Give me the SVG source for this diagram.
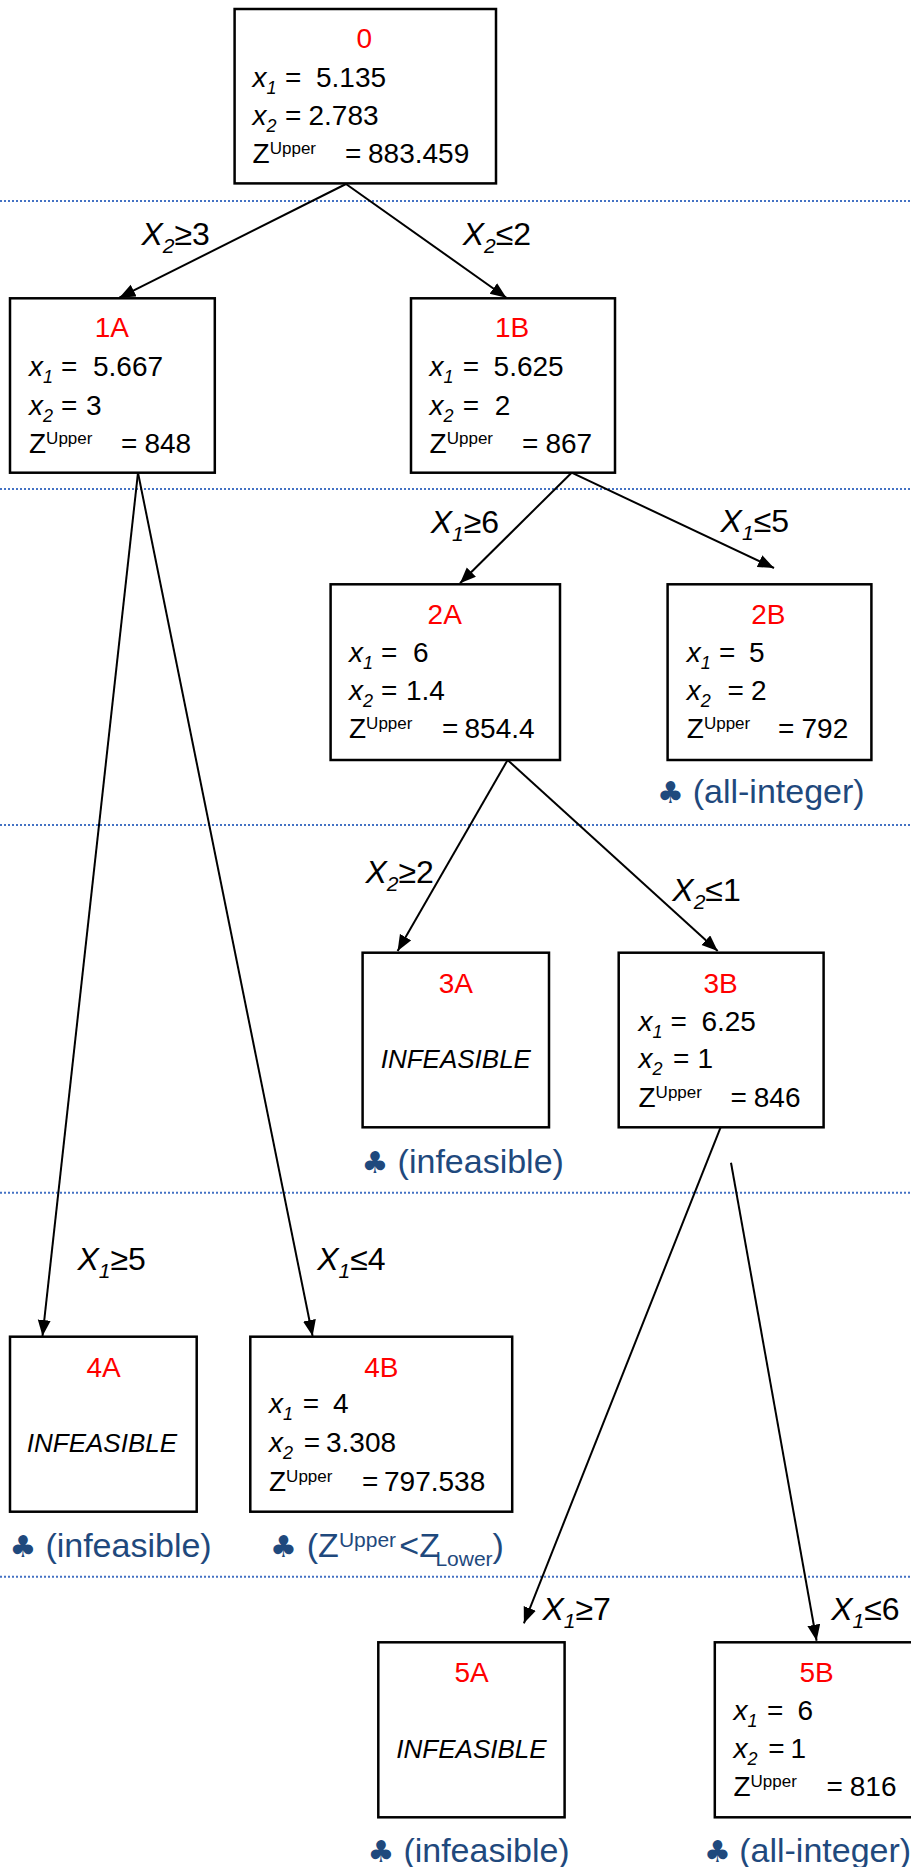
<svg xmlns="http://www.w3.org/2000/svg" width="911" height="1867" viewBox="0 0 911 1867">
<style>
text{font-family:"Liberation Sans",Arial,sans-serif;font-size:28px;fill:#000}
.box{fill:#fff;stroke:#000;stroke-width:2.5}
.lbl{fill:#f00;text-anchor:middle}
.i{font-style:italic}
.sb{font-size:18px;font-style:italic}
.sp{font-size:17px}
.inf{font-style:italic;text-anchor:middle;font-size:26px}
.el{font-size:32px}
.es{font-size:21px;font-style:italic}
.note{font-size:34px;fill:#1F497D}
.club{font-family:"DejaVu Sans",sans-serif;font-size:30px}
.dot{stroke:#4472C4;stroke-width:2;stroke-dasharray:2 2;fill:none}
.edge{stroke:#000;stroke-width:2;fill:none}
</style>
<defs>
<marker id="ah" markerUnits="userSpaceOnUse" markerWidth="18" markerHeight="14" refX="16" refY="6.5" orient="auto">
<path d="M0,0 L16,6.5 L0,13 Z" fill="#000"/>
</marker>
</defs>
<g id="separators">
<line class="dot" x1="0" y1="201" x2="911" y2="201"/>
<line class="dot" x1="0" y1="489" x2="911" y2="489"/>
<line class="dot" x1="0" y1="825" x2="911" y2="825"/>
<line class="dot" x1="0" y1="1192.7" x2="911" y2="1192.7"/>
<line class="dot" x1="0" y1="1576.7" x2="911" y2="1576.7"/>
</g>
<g id="connectors">
<line class="edge" x1="346" y1="184" x2="119.3" y2="297.7" marker-end="url(#ah)"/>
<line class="edge" x1="346" y1="184" x2="506.4" y2="297.7" marker-end="url(#ah)"/>
<line class="edge" x1="571.6" y1="472.7" x2="460" y2="583.3" marker-end="url(#ah)"/>
<line class="edge" x1="571.6" y1="472.7" x2="774" y2="568" marker-end="url(#ah)"/>
<line class="edge" x1="138" y1="472.7" x2="42.5" y2="1336" marker-end="url(#ah)"/>
<line class="edge" x1="138" y1="472.7" x2="312.6" y2="1336" marker-end="url(#ah)"/>
<line class="edge" x1="507.6" y1="760" x2="397.6" y2="951" marker-end="url(#ah)"/>
<line class="edge" x1="507.6" y1="760" x2="717.7" y2="951" marker-end="url(#ah)"/>
<line class="edge" x1="720.6" y1="1127.3" x2="523.9" y2="1623.3" marker-end="url(#ah)"/>
<line class="edge" x1="731" y1="1162.7" x2="816.6" y2="1640.7" marker-end="url(#ah)"/>
<text class="el" x="141.4" y="245"><tspan class="i">X</tspan><tspan class="es" dy="8">2</tspan><tspan dy="-8">≥3</tspan></text>
<text class="el" x="462.7" y="245"><tspan class="i">X</tspan><tspan class="es" dy="8">2</tspan><tspan dy="-8">≤2</tspan></text>
<text class="el" x="430.7" y="533"><tspan class="i">X</tspan><tspan class="es" dy="8">1</tspan><tspan dy="-8">≥6</tspan></text>
<text class="el" x="720.6" y="532"><tspan class="i">X</tspan><tspan class="es" dy="8">1</tspan><tspan dy="-8">≤5</tspan></text>
<text class="el" x="365.5" y="883"><tspan class="i">X</tspan><tspan class="es" dy="8">2</tspan><tspan dy="-8">≥2</tspan></text>
<text class="el" x="672.3" y="901"><tspan class="i">X</tspan><tspan class="es" dy="8">2</tspan><tspan dy="-8">≤1</tspan></text>
<text class="el" x="77.4" y="1270"><tspan class="i">X</tspan><tspan class="es" dy="8">1</tspan><tspan dy="-8">≥5</tspan></text>
<text class="el" x="317.2" y="1270"><tspan class="i">X</tspan><tspan class="es" dy="8">1</tspan><tspan dy="-8">≤4</tspan></text>
<text class="el" x="542.5" y="1620"><tspan class="i">X</tspan><tspan class="es" dy="8">1</tspan><tspan dy="-8">≥7</tspan></text>
<text class="el" x="831.2" y="1620"><tspan class="i">X</tspan><tspan class="es" dy="8">1</tspan><tspan dy="-8">≤6</tspan></text>
</g>
<g id="node0">
<rect class="box" x="234.6" y="9" width="261.4" height="174.4"/>
<text class="lbl" x="364.4" y="48">0</text>
<text x="252.6" y="87"><tspan class="i">x</tspan><tspan class="sb" dy="7">1</tspan><tspan x="285" dy="-7">=</tspan><tspan x="316">5.135</tspan></text>
<text x="252.6" y="125"><tspan class="i">x</tspan><tspan class="sb" dy="7">2</tspan><tspan x="285" dy="-7">=</tspan><tspan x="308.5">2.783</tspan></text>
<text x="252.6" y="163">Z<tspan class="sp" dy="-9">Upper</tspan><tspan x="345" dy="9">=</tspan><tspan x="368">883.459</tspan></text>
</g>
<g id="node1A">
<rect class="box" x="10" y="298.3" width="204.8" height="174.4"/>
<text class="lbl" x="111.8" y="337.3">1A</text>
<text x="29" y="376"><tspan class="i">x</tspan><tspan class="sb" dy="7">1</tspan><tspan x="61" dy="-7">=</tspan><tspan x="93">5.667</tspan></text>
<text x="29" y="415"><tspan class="i">x</tspan><tspan class="sb" dy="7">2</tspan><tspan x="61" dy="-7">=</tspan><tspan x="86">3</tspan></text>
<text x="29" y="452.7">Z<tspan class="sp" dy="-9">Upper</tspan><tspan x="121" dy="9">=</tspan><tspan x="144.4">848</tspan></text>
</g>
<g id="node1B">
<rect class="box" x="411" y="298.3" width="204" height="174.4"/>
<text class="lbl" x="512" y="337.3">1B</text>
<text x="429.6" y="376"><tspan class="i">x</tspan><tspan class="sb" dy="7">1</tspan><tspan x="462.7" dy="-7">=</tspan><tspan x="493.6">5.625</tspan></text>
<text x="429.6" y="415"><tspan class="i">x</tspan><tspan class="sb" dy="7">2</tspan><tspan x="462.7" dy="-7">=</tspan><tspan x="494.8">2</tspan></text>
<text x="429.6" y="452.7">Z<tspan class="sp" dy="-9">Upper</tspan><tspan x="522" dy="9">=</tspan><tspan x="545.4">867</tspan></text>
</g>
<g id="node2A">
<rect class="box" x="330.6" y="584.3" width="229.4" height="175.7"/>
<text class="lbl" x="444.7" y="624">2A</text>
<text x="349" y="661.7"><tspan class="i">x</tspan><tspan class="sb" dy="7">1</tspan><tspan x="381" dy="-7">=</tspan><tspan x="413">6</tspan></text>
<text x="349" y="700"><tspan class="i">x</tspan><tspan class="sb" dy="7">2</tspan><tspan x="381" dy="-7">=</tspan><tspan x="406">1.4</tspan></text>
<text x="349" y="738.3">Z<tspan class="sp" dy="-9">Upper</tspan><tspan x="442" dy="9">=</tspan><tspan x="464.5">854.4</tspan></text>
</g>
<g id="node2B">
<rect class="box" x="667.6" y="584.3" width="203.8" height="175.7"/>
<text class="lbl" x="768.3" y="624">2B</text>
<text x="686.8" y="661.7"><tspan class="i">x</tspan><tspan class="sb" dy="7">1</tspan><tspan x="719" dy="-7">=</tspan><tspan x="749">5</tspan></text>
<text x="686.8" y="700"><tspan class="i">x</tspan><tspan class="sb" dy="7">2</tspan><tspan x="727.6" dy="-7">=</tspan><tspan x="751">2</tspan></text>
<text x="686.8" y="738.3">Z<tspan class="sp" dy="-9">Upper</tspan><tspan x="778" dy="9">=</tspan><tspan x="801.5">792</tspan></text>
<text class="note" x="657" y="803"><tspan class="club">♣</tspan><tspan x="692.7">(all-integer)</tspan></text>
</g>
<g id="node3A">
<rect class="box" x="362.6" y="952.7" width="186.4" height="174.6"/>
<text class="lbl" x="455.8" y="992.7">3A</text>
<text class="inf" x="455.8" y="1067.7">INFEASIBLE</text>
<text class="note" x="361.5" y="1173.3"><tspan class="club">♣</tspan><tspan x="397.6">(infeasible)</tspan></text>
</g>
<g id="node3B">
<rect class="box" x="618.7" y="952.7" width="204.9" height="174.6"/>
<text class="lbl" x="720.6" y="992.7">3B</text>
<text x="638.5" y="1030.7"><tspan class="i">x</tspan><tspan class="sb" dy="7">1</tspan><tspan x="670.5" dy="-7">=</tspan><tspan x="701.4">6.25</tspan></text>
<text x="638.5" y="1068.3"><tspan class="i">x</tspan><tspan class="sb" dy="7">2</tspan><tspan x="673" dy="-7">=</tspan><tspan x="697.5">1</tspan></text>
<text x="638.5" y="1106.7">Z<tspan class="sp" dy="-9">Upper</tspan><tspan x="730.5" dy="9">=</tspan><tspan x="753.8">846</tspan></text>
</g>
<g id="node4A">
<rect class="box" x="10" y="1336.7" width="186.7" height="175"/>
<text class="lbl" x="103.6" y="1376.7">4A</text>
<text class="inf" x="101.9" y="1451.7">INFEASIBLE</text>
<text class="note" x="9.5" y="1556.7"><tspan class="club">♣</tspan><tspan x="45.4">(infeasible)</tspan></text>
</g>
<g id="node4B">
<rect class="box" x="250.3" y="1336.7" width="261.9" height="175"/>
<text class="lbl" x="381.3" y="1376.7">4B</text>
<text x="269" y="1413.3"><tspan class="i">x</tspan><tspan class="sb" dy="7">1</tspan><tspan x="302.7" dy="-7">=</tspan><tspan x="333">4</tspan></text>
<text x="269" y="1451.7"><tspan class="i">x</tspan><tspan class="sb" dy="7">2</tspan><tspan x="303.8" dy="-7">=</tspan><tspan x="326">3.308</tspan></text>
<text x="269" y="1490.7">Z<tspan class="sp" dy="-9">Upper</tspan><tspan x="362" dy="9">=</tspan><tspan x="384">797.538</tspan></text>
<text class="note" x="270" y="1556.7"><tspan class="club">♣</tspan><tspan x="306.8">(Z</tspan><tspan font-size="21" dy="-10">Upper</tspan><tspan x="399.3" dy="10">&lt;Z</tspan><tspan font-size="21" x="435.4" dy="9">Lower</tspan><tspan dy="-9">)</tspan></text>
</g>
<g id="node5A">
<rect class="box" x="378.3" y="1642.3" width="186.3" height="175"/>
<text class="lbl" x="471.5" y="1681.7">5A</text>
<text class="inf" x="471.5" y="1758.3">INFEASIBLE</text>
<text class="note" x="367.5" y="1861.7"><tspan class="club">♣</tspan><tspan x="403.4">(infeasible)</tspan></text>
</g>
<g id="node5B">
<rect class="box" x="714.8" y="1642.3" width="205" height="175"/>
<text class="lbl" x="816.6" y="1681.7">5B</text>
<text x="733.4" y="1720"><tspan class="i">x</tspan><tspan class="sb" dy="7">1</tspan><tspan x="767" dy="-7">=</tspan><tspan x="797.4">6</tspan></text>
<text x="733.4" y="1758.3"><tspan class="i">x</tspan><tspan class="sb" dy="7">2</tspan><tspan x="768.3" dy="-7">=</tspan><tspan x="790.5">1</tspan></text>
<text x="733.4" y="1796">Z<tspan class="sp" dy="-9">Upper</tspan><tspan x="826.5" dy="9">=</tspan><tspan x="849.8">816</tspan></text>
<text class="note" x="704" y="1861.7"><tspan class="club">♣</tspan><tspan x="739.2">(all-integer)</tspan></text>
</g>
</svg>
